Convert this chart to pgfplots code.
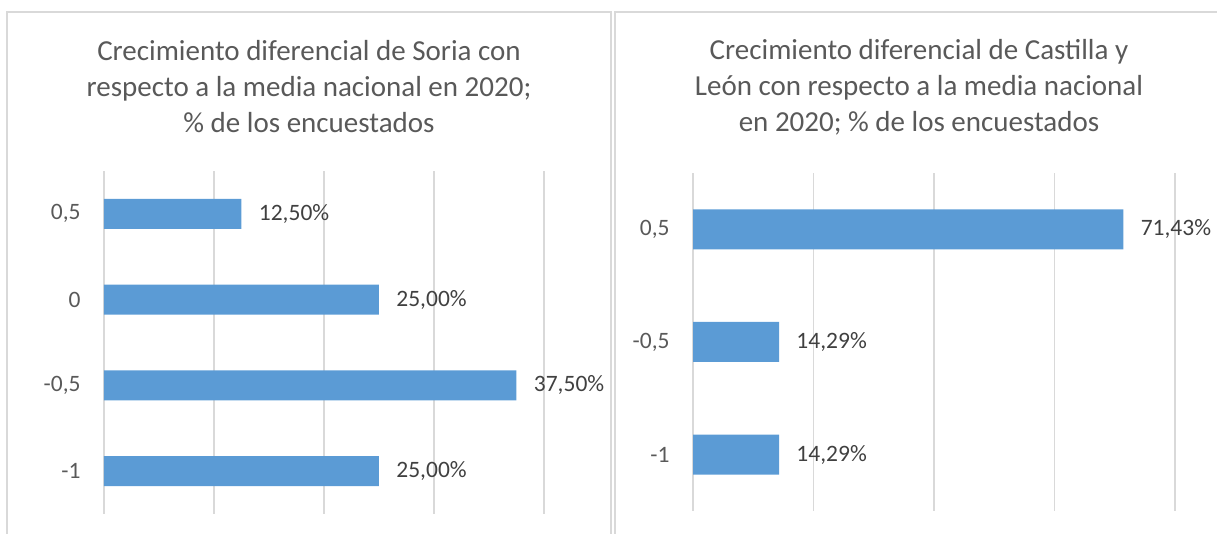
\documentclass[border=0pt]{standalone}
\usepackage{pgfplots}
\pgfplotsset{compat=1.18}
\usepackage{fontspec}
\setmainfont{Carlito}
\definecolor{barblue}{HTML}{5B9BD5}
\definecolor{gridgray}{HTML}{D9D9D9}
\definecolor{titlegray}{HTML}{595959}
\definecolor{labelgray}{HTML}{595959}
\definecolor{datagray}{HTML}{404040}
\pgfplotsset{
  panel/.style={
    scale only axis,
    clip=false,
    axis line style={draw=none},
    major tick length=0pt,
    xmajorgrids,
    grid style={color=gridgray, line width=0.7pt},
    xticklabels={},
    xbar,
    /pgf/number format/assume math mode=true,
    yticklabel style={font=\fontsize{11.75}{14}\selectfont, text=labelgray, anchor=east, inner sep=0pt, xshift=-11.5pt},
    point meta=x,
    nodes near coords={\pgfmathprintnumber[fixed,fixed zerofill,precision=2,use comma,assume math mode=true]{\pgfplotspointmeta}\%},
    nodes near coords style={font=\fontsize{11.75}{14}\selectfont, text=datagray, anchor=west, inner sep=0pt, xshift=8.5pt},
  }
}
\begin{document}
\begin{tikzpicture}[x=0.5pt,y=-0.5pt]
\useasboundingbox (0,0) rectangle (1217,534);
\draw[gridgray, line width=0.75pt] (7,540) -- (7,12) -- (611,12) -- (611,540);
\draw[gridgray, line width=0.75pt] (615,540) -- (615,12) -- (1230,12) -- (1230,540);
\node[align=center, font=\fontsize{14.5}{18}\selectfont, text=titlegray] at (309,87)
  {Crecimiento diferencial de Soria con\\respecto a la media nacional en 2020;\\\% de los encuestados};
\node[align=center, font=\fontsize{14.5}{18}\selectfont, text=titlegray] at (919,87)
  {Crecimiento diferencial de Castilla y\\León con respecto a la media nacional\\en 2020; \% de los encuestados};
\coordinate (L) at (104,171);
\coordinate (R) at (693,173);
\begin{axis}[panel, at={(L)}, anchor=north west,
  width=220pt, height=171.5pt,
  xmin=0, xmax=40, xtick={0,10,20,30,40},
  ymin=-0.5, ymax=3.5, ytick={0,1,2,3},
  yticklabels={-1,{-0,5},0,{0,5}},
  bar width=15pt]
\addplot[fill=barblue, draw=none] coordinates {(25,0) (37.5,1) (25,2) (12.5,3)};
\end{axis}
\begin{axis}[panel, at={(R)}, anchor=north west,
  width=241pt, height=169pt,
  xmin=0, xmax=80, xtick={0,20,40,60,80},
  ymin=-0.5, ymax=2.5, ytick={0,1,2},
  yticklabels={-1,{-0,5},{0,5}},
  bar width=20pt]
\addplot[fill=barblue, draw=none] coordinates {(14.29,0) (14.29,1) (71.43,2)};
\end{axis}
\end{tikzpicture}
\end{document}
